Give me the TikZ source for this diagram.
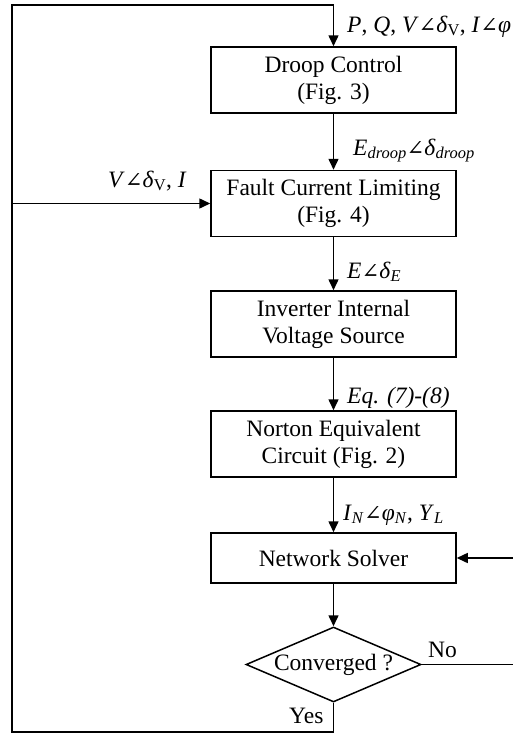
\documentclass[tikz,border=0pt]{standalone}
\usepackage{fontspec}
\setmainfont{Liberation Serif}
\newfontfamily\symfont[Scale=0.9]{DejaVu Serif}
\usetikzlibrary{shapes}
\usetikzlibrary{arrows.meta}

\newcommand{\ang}{{\symfont ∠}}
\newcommand{\lsub}[1]{\textsubscript{#1}}

\begin{document}
\begin{tikzpicture}[x=1pt,y=-1pt]
	\tikzstyle{block}=[draw,line width=1.5pt,minimum width=245pt,minimum height=66pt,align=center,inner sep=0pt,font=\fontsize{23.5}{27}\selectfont]
	\tikzstyle{decision}=[diamond,draw,line width=1.5pt,shape aspect=2.33,minimum width=175pt,minimum height=75pt,inner sep=0pt,font=\fontsize{23.5}{27}\selectfont]
	\tikzstyle{lbl}=[anchor=base west,inner sep=0pt,font=\fontsize{23.5}{27}\selectfont]
	\tikzstyle{line}=[draw,line width=1.5pt,black]
	\tikzstyle{flow}=[line,-{Triangle[length=11pt,width=10pt]}]

	\useasboundingbox (0,0) rectangle (512,734);

	\node[block] (droop) at (333.5,80) {Droop Control\\(Fig. 3)};
	\node[block] (fault) at (333.5,203.5) {Fault Current Limiting\\(Fig. 4)};
	\node[block] (source) at (333.5,324) {Inverter Internal\\Voltage Source};
	\node[block] (norton) at (333.5,444) {Norton Equivalent\\Circuit (Fig. 2)};
	\node[block,minimum height=50pt] (solver) at (333.5,558) {Network Solver};
	\node[decision] (conv) at (333.5,664.5) {Converged ?};

	\coordinate (topleft) at (12,5);
	\coordinate (botleft) at (12,732);
	\coordinate (faultin) at (12,203.5);
	\coordinate (noright) at (516,664.5);

	\draw[flow] (conv.south) |- (botleft) -- (topleft) -| (droop.north);
	\draw[flow] (droop) -- (fault);
	\draw[flow] (faultin) -- (fault.west);
	\draw[flow] (fault) -- (source);
	\draw[flow] (source) -- (norton);
	\draw[flow] (norton) -- (solver);
	\draw[flow] (solver) -- (conv);
	\draw[flow] (conv.east) -- (noright) |- (solver.east);

	\node[lbl] (pqlbl) at (347,32) {\textit{P}, \textit{Q}, \textit{V}\ang\textit{δ}\lsub{V}, \textit{I}\ang\textit{φ}};
	\node[lbl] (droopflbl) at (353,155) {\textit{E}\lsub{\textit{droop}}\ang\textit{δ}\lsub{\textit{droop}}};
	\node[lbl] (vilbl) at (108,187) {\textit{V}\ang\textit{δ}\lsub{V}, \textit{I}};
	\node[lbl] (elbl) at (347,278) {\textit{E}\ang\textit{δ}\lsub{\textit{E}}};
	\node[lbl] (eqlbl) at (347,403) {\textit{Eq. (7)-(8)}};
	\node[lbl] (inlbl) at (343,520) {\textit{I}\lsub{\textit{N}}\ang\textit{φ}\lsub{\textit{N}}, \textit{Y}\lsub{\textit{L}}};
	\node[lbl] (nolbl) at (428,657) {No};
	\node[lbl] (yeslbl) at (289,723) {Yes};
\end{tikzpicture}
\end{document}
